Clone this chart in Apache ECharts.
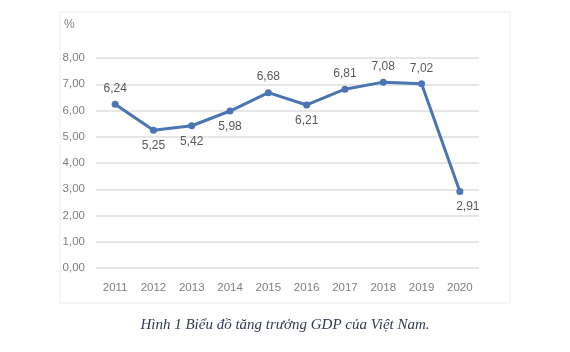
<!DOCTYPE html>
<html>
<head>
<meta charset="utf-8">
<script src="https://cdn.jsdelivr.net/npm/echarts@6/dist/echarts.min.js"></script>
<style>
  html, body { margin: 0; padding: 0; background: #fff; }
  #chart { width: 570px; height: 352px; }
</style>
</head>
<body>
<div id="chart"></div>
<script>
// du lieu tang truong GDP
var years = ['2011', '2012', '2013', '2014', '2015', '2016', '2017', '2018', '2019', '2020'];
var gdpValues = [6.24, 5.25, 5.42, 5.98, 6.68, 6.21, 6.81, 7.08, 7.02, 2.91];
var labelPos = ['top', 'bottom', 'bottom', 'bottom', 'top', 'bottom', 'top', 'top', 'top', 'bottom'];
var yTicks = [0, 1, 2, 3, 4, 5, 6, 7, 8];

var chart = echarts.init(document.getElementById('chart'));
var font = "'Liberation Sans Narrow', 'Liberation Sans', sans-serif";

function fmt(v) {
    return v.toFixed(2).replace('.', ',');
}

var points = gdpValues.map(function (v, i) {
    var item = { value: v, label: { position: labelPos[i] } };
    if (i === gdpValues.length - 1) item.label.offset = [8, 0];
    return item;
});

var option = {
    animation: false,
    backgroundColor: '#fff',
    grid: { left: 96, right: 91, top: 58, bottom: 84 },
    graphic: [
        {
            type: 'rect',
            shape: { x: 60, y: 12, width: 450, height: 291 },
            style: { fill: 'none', stroke: '#ececec', lineWidth: 1 },
            silent: true
        },
        {
            type: 'text',
            left: 64, top: 19,
            style: { text: '%', fill: '#7f7f7f', font: '12px ' + font }
        },
        {
            type: 'text',
            left: 'center', top: 318,
            style: {
                text: 'Hình 1 Biểu đồ tăng trưởng GDP của Việt Nam.',
                fill: '#2f3a50',
                font: 'italic 15px "Liberation Serif", serif'
            }
        }
    ],
    xAxis: {
        type: 'category',
        data: years,
        boundaryGap: true,
        axisLine: { show: false },
        axisTick: { show: false },
        axisLabel: { color: '#7f7f7f', fontSize: 11.5, fontFamily: font, margin: 14 }
    },
    yAxis: {
        type: 'value',
        min: yTicks[0],
        max: yTicks[yTicks.length - 1],
        interval: 1,
        axisLine: { show: false },
        axisTick: { show: false },
        splitLine: { lineStyle: { color: '#dedede', width: 1.5 } },
        axisLabel: {
            color: '#7f7f7f', fontSize: 11.5, fontFamily: font, margin: 11,
            formatter: function (v) { return fmt(v); }
        }
    },
    series: [{
        type: 'line',
        data: points,
        symbol: 'circle',
        symbolSize: 7,
        itemStyle: { color: '#4a75b5' },
        lineStyle: { color: '#4a75b5', width: 3 },
        label: {
            show: true,
            color: '#595959',
            fontSize: 12,
            fontFamily: font,
            distance: 6,
            formatter: function (p) { return fmt(p.value); }
        }
    }]
};

chart.setOption(option);
</script>
</body>
</html>
